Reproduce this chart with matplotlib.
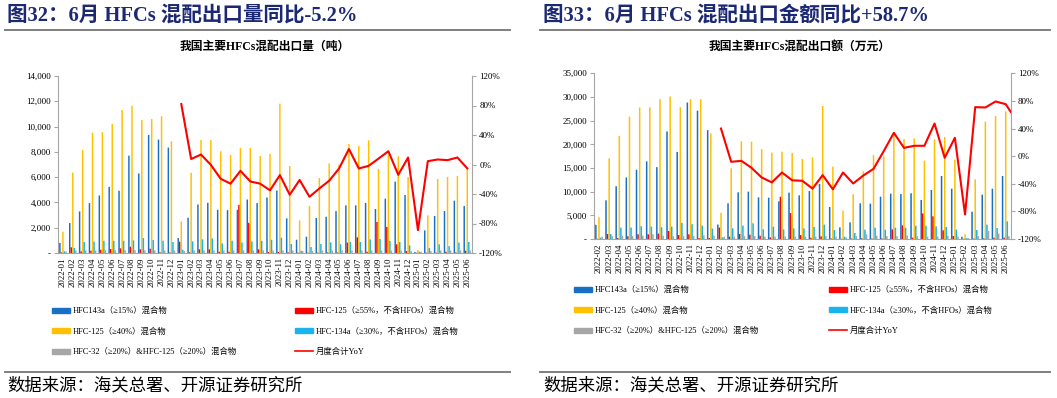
import numpy as np
import matplotlib
matplotlib.use("Agg")
import matplotlib.pyplot as plt
from matplotlib.lines import Line2D
from matplotlib.patches import Patch
from matplotlib.ticker import FuncFormatter, MultipleLocator

plt.rcParams['font.family'] = ['Liberation Serif', 'Noto Sans CJK SC', 'DejaVu Sans']

# ---------------- data: left chart (export volume, tonnes) ----------------
months_left = [f"{y}-{m:02d}" for y in (2022, 2023, 2024) for m in range(1, 13)] + \
              [f"2025-{m:02d}" for m in range(1, 7)]

vol_143a = [800, 2370, 3290, 3945, 4550, 5230, 4920, 7700, 6290, 9340, 8970, 8340,
            1180, 2790, 3840, 3970, 3420, 3390, 3420, 4230, 3945, 4390, 4940, 2740,
            1050, 1290, 2770, 2870, 3320, 3770, 3770, 3960, 3480, 4300, 5640, 4590,
            80, 1790, 2930, 3320, 4140, 3720]
vol_125_55 = [50, 450, 130, 180, 260, 315, 370, 500, 290, 340, 60, 50,
              890, 60, 290, 290, 100, 100, 3810, 2390, 290, 80, 80, 50,
              30, 30, 30, 50, 50, 820, 1240, 100, 2450, 2060, 690, 160,
              20, 30, 30, 100, 50, 180]
vol_125_40 = [1680, 6365, 8150, 9520, 9550, 10200, 11310, 11650, 10520, 10600, 10810, 8840,
              2500, 6340, 8940, 8940, 8050, 7760, 8310, 8310, 7680, 7840, 11810, 6880,
              2580, 3720, 5930, 7090, 6990, 8620, 8460, 8910, 6650, 7800, 7650, 6010,
              240, 2980, 5850, 6010, 6090, 6670]
vol_134a = [130, 400, 870, 900, 970, 970, 970, 1000, 1180, 1030, 970, 870,
            260, 920, 1080, 1160, 760, 970, 840, 920, 970, 1050, 1210, 710,
            180, 475, 710, 840, 690, 870, 870, 1080, 1110, 950, 870, 610,
            100, 400, 690, 550, 820, 870]
vol_32_125 = [120, 200, 200, 200, 220, 220, 220, 220, 220, 200, 200, 200,
              150, 200, 200, 200, 200, 200, 200, 200, 200, 200, 200, 200,
              150, 150, 200, 200, 200, 200, 200, 200, 200, 200, 200, 150,
              100, 150, 200, 200, 200, 200]
vol_yoy = [None] * 12 + [82, 7.5, 13.5, -0.5, -19.4, -26, -8.6, -23, -26, -35, -14.4, -41,
                         -21, -43.8, -32.5, -22, -5.4, 21, -5.4, -1.8, 8, 18, -14, 9.5,
                         -89, 4.5, 6.8, 5.9, 9.5, -5.2]

# ---------------- data: right chart (export value, 10k CNY) ----------------
months_right = [f"2022-{m:02d}" for m in range(2, 13)] + \
               [f"{y}-{m:02d}" for y in (2023, 2024) for m in range(1, 13)] + \
               [f"2025-{m:02d}" for m in range(1, 7)]

amt_143a = [3000, 8165, 11150, 13000, 14630, 16400, 15190, 22720, 18390, 28830, 27120,
            23000, 3050, 7530, 9860, 10000, 8800, 8730, 7960, 9790, 9220, 10140, 11620,
            6760, 2460, 3520, 7530, 7460, 8940, 9570, 9500, 9650, 8240, 10350, 13310,
            10630, 490, 5770, 9360, 10630, 13310]
amt_125_55 = [50, 1065, 200, 570, 990, 990, 1140, 1700, 850, 990, 200,
              200, 2410, 500, 1060, 920, 700, 350, 8940, 5490, 840, 280, 560,
              100, 50, 100, 150, 100, 100, 2040, 2890, 280, 5420, 4790, 1830,
              630, 50, 100, 150, 280, 280]
amt_125_40 = [4600, 17040, 21800, 25840, 27760, 27830, 29540, 30100, 27830, 29540, 29540,
              22300, 5540, 14920, 20630, 20560, 19000, 18230, 18440, 18160, 16900, 17250, 28090,
              15280, 5980, 9430, 14290, 17740, 17460, 22600, 21120, 21260, 16540, 21050, 21540,
              16760, 990, 12600, 24780, 25980, 26960]
amt_134a = [280, 1065, 2410, 2410, 2700, 2630, 2490, 2630, 3410, 3120, 2840,
            2200, 350, 2250, 2820, 3310, 2040, 2600, 2040, 2250, 2250, 2530, 3030,
            1900, 490, 1270, 1970, 2390, 1970, 2390, 2390, 2820, 2820, 2680, 2530,
            1970, 200, 1900, 3030, 2320, 3730]
amt_32_125 = [500, 600, 700, 600, 700, 1000, 700, 600, 600, 600, 780,
              700, 500, 500, 600, 600, 500, 500, 500, 500, 500, 500, 600,
              500, 300, 600, 1000, 700, 600, 600, 700, 600, 500, 500, 700,
              500, 200, 600, 1690, 1130, 600]
amt_yoy = [None] * 12 + [40, -8.2, -6.8, -16.9, -30.9, -38, -23.7, -35, -35.7, -47, -27.5,
                         -48, -23.7, -39.6, -28, -18.4, 7.2, 33.8, 12, 15, 15, 47.3, -2.4,
                         26.6, -84.5, 71, 70.5, 79.2, 75.3]
amt_yoy_tail = 64.0   # line continues to the right edge of the plot

series_labels = ["HFC143a（≥15%）混合物", "HFC-125（≥55%，不含HFOs）混合物",
                 "HFC-125（≥40%）混合物", "HFC-134a（≥30%，不含HFOs）混合物",
                 "HFC-32（≥20%）&HFC-125（≥20%）混合物"]
yoy_label = "月度合计YoY"
colors = ['#1770C4', '#FF0000', '#FFC000', '#19B4EE', '#A6A6A6']

W, H = 1057, 398
fig = plt.figure(figsize=(W / 100, H / 100), dpi=100)


def fx(px):
    return px / W


def fy(py):
    return 1 - py / H


AX_COL = '#A6A6A6'


def panel(rect, months, series, yoy, ymax, ystep, title, title_x, subtitle, sub_x,
          leg_y, leg_x1, leg_x2, line_x0, line_x1, tail=None):
    l, t, r, b = rect
    ax = fig.add_axes([fx(l), fy(b), fx(r - l), (b - t) / H])
    n = len(months)
    x = np.arange(n)
    offs = (np.arange(5) - 2) * 0.155
    for i, s in enumerate(series):
        ax.bar(x + offs[i], s, width=0.15, color=colors[i], linewidth=0, zorder=2,
               snap=False, antialiased=True)
    ax.set_xlim(-0.5, n - 0.5)
    ax.set_ylim(0, ymax)
    ax.yaxis.set_major_locator(MultipleLocator(ystep))
    ax.yaxis.set_major_formatter(FuncFormatter(lambda v, p: '-' if v == 0 else f"{v:,.0f}"))
    ax.set_xticks(x)
    ax.set_xticklabels(months, rotation=90, fontsize=6.3)
    ax.tick_params(axis='x', length=0, pad=3)
    ax.tick_params(axis='y', labelsize=6.5, length=3, color=AX_COL, pad=2)
    for sp in ('top', 'right'):
        ax.spines[sp].set_visible(False)
    for sp in ('left', 'bottom'):
        ax.spines[sp].set_color(AX_COL)
        ax.spines[sp].set_linewidth(0.8)

    ax2 = ax.twinx()
    yx = [i for i, v in enumerate(yoy) if v is not None]
    yv = [v for v in yoy if v is not None]
    if tail is not None:
        yx = yx + [n - 0.5]
        yv = yv + [tail]
    ax2.plot(yx, yv, color='#FF0000', lw=1.5, zorder=3)
    ax2.set_ylim(-120, 120)
    ax2.yaxis.set_major_locator(MultipleLocator(40))
    ax2.yaxis.set_major_formatter(FuncFormatter(lambda v, p: f"{v:.0f}%"))
    ax2.tick_params(axis='y', labelsize=6.5, length=3, color=AX_COL, pad=2)
    for sp in ('top', 'left', 'bottom'):
        ax2.spines[sp].set_visible(False)
    ax2.spines['right'].set_color(AX_COL)
    ax2.spines['right'].set_linewidth(0.8)
    ax2.set_xlim(-0.5, n - 0.5)

    # titles
    fig.text(fx(title_x), fy(16), title, fontsize=14.8, fontweight='bold', color='#1B2873',
             ha='left', va='center')
    fig.add_artist(Line2D([fx(line_x0), fx(line_x1)], [fy(29.5)] * 2, color='#7F7F7F', lw=1.4))
    fig.text(fx(sub_x), fy(47), subtitle, fontsize=8.5, fontweight='bold', color='#000000',
             ha='center', va='center')
    fig.add_artist(Line2D([fx(line_x0), fx(line_x1)], [fy(372)] * 2, color='#7F7F7F', lw=1.4))
    fig.text(fx(title_x), fy(386), "数据来源：海关总署、开源证券研究所", fontsize=12.5,
             color='#000000', ha='left', va='center')

    # legends (two columns)
    h = [Patch(color=colors[i]) for i in range(5)]
    col1_h = [h[0], h[2], h[4]]
    col1_l = [series_labels[0], series_labels[2], series_labels[4]]
    col2_h = [h[1], h[3], Line2D([], [], color='#FF0000', lw=1.2)]
    col2_l = [series_labels[1], series_labels[3], yoy_label]
    kw = dict(loc='upper left', frameon=False, fontsize=6, labelspacing=1.45,
              handlelength=2.2, handleheight=0.55, handletextpad=0.3, borderpad=0,
              borderaxespad=0)
    fig.legend(col1_h, col1_l, bbox_to_anchor=(fx(leg_x1), fy(leg_y)), **kw)
    fig.legend(col2_h, col2_l, bbox_to_anchor=(fx(leg_x2), fy(leg_y)), **kw)
    return ax, ax2


panel((58, 76, 472.2, 253), months_left,
      [vol_143a, vol_125_55, vol_125_40, vol_134a, vol_32_125], vol_yoy,
      14000, 2000, "图32：6月 HFCs 混配出口量同比-5.2%", 7,
      "我国主要HFCs混配出口量（吨）", 265, 307, 52, 295, 5, 510)

panel((593.9, 73.3, 1010.8, 239), months_right,
      [amt_143a, amt_125_55, amt_125_40, amt_134a, amt_32_125], amt_yoy,
      35000, 5000, "图33：6月 HFCs 混配出口金额同比+58.7%", 543,
      "我国主要HFCs混配出口额（万元）", 800, 286, 574, 829, 540, 1050, tail=amt_yoy_tail)

fig.savefig("out.png", dpi=100)
